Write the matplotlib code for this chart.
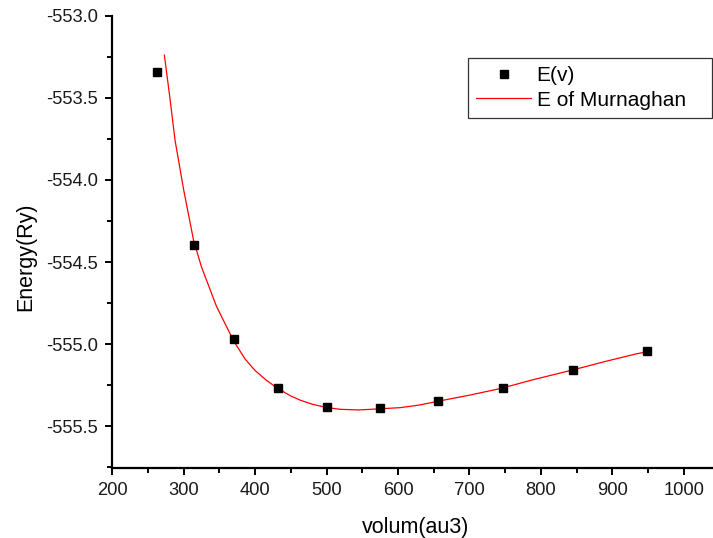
import matplotlib
matplotlib.use('Agg')
import matplotlib.pyplot as plt
from matplotlib.ticker import MultipleLocator, FormatStrFormatter

plt.rcParams['font.family'] = ['Liberation Sans', 'DejaVu Sans']
plt.rcParams['axes.unicode_minus'] = False

# calculated total energy at each cell volume
volume = [263, 314, 370, 432, 500, 575, 656, 747, 845, 949]
energy = [-553.344, -554.394, -554.970, -555.267, -555.383, -555.386,
          -555.347, -555.265, -555.156, -555.044]

# Murnaghan equation of state fit
fit_volume = [273, 281, 288, 300, 314, 325, 346, 370, 386, 400, 416, 432, 450,
              463, 480, 499, 519, 545, 575, 603, 630, 656, 700, 743, 790, 845,
              890, 934, 949]
fit_energy = [-553.24, -553.51, -553.76, -554.06, -554.37, -554.53, -554.77,
              -554.98, -555.09, -555.16, -555.22, -555.27, -555.315, -555.34,
              -555.365, -555.384, -555.396, -555.40, -555.393, -555.386,
              -555.37, -555.347, -555.31, -555.27, -555.215, -555.156,
              -555.105, -555.058, -555.046]

fig = plt.figure(figsize=(7.13, 5.38), dpi=100)
ax = fig.add_axes([0.1574, 0.1296, 0.8426, 0.8412])

ax.plot(volume, energy, 's', color='black', markersize=6.3, label='E(v)', zorder=3)
ax.plot(fit_volume, fit_energy, '-', color='#ff0000', linewidth=0.9,
        label='E of Murnaghan', zorder=2)

ax.set_xlim(200, 1041)
ax.set_ylim(-555.755, -553.0)

ax.xaxis.set_major_locator(MultipleLocator(100))
ax.xaxis.set_minor_locator(MultipleLocator(50))
ax.yaxis.set_major_locator(MultipleLocator(0.5))
ax.yaxis.set_minor_locator(MultipleLocator(0.25))
ax.yaxis.set_major_formatter(FormatStrFormatter('%.1f'))

for side in ['top', 'right']:
    ax.spines[side].set_visible(False)
for side in ['left', 'bottom']:
    ax.spines[side].set_linewidth(1.6)

ax.tick_params(which='major', direction='out', length=5, width=1.4,
               labelsize=13.2, colors='black', pad=5)
ax.tick_params(which='minor', direction='out', length=3.5, width=1.4)
for lbl in ax.get_xticklabels() + ax.get_yticklabels():
    lbl.set_color('#1a1a1a')

ax.set_xlabel('volum(au3)', fontsize=15.5)
ax.set_ylabel('Energy(Ry)', fontsize=15.5)
ax.xaxis.set_label_coords(0.505, -0.108)
ax.yaxis.set_label_coords(-0.127, 0.468)

leg = ax.legend(loc='upper left', bbox_to_anchor=(0.592, 0.765, 0.406, 0.1414),
                mode='expand', borderaxespad=0, fontsize=15,
                frameon=True, fancybox=False, edgecolor='black',
                handlelength=2.65, handletextpad=0.25, borderpad=0.4,
                labelspacing=0.25)
leg.get_frame().set_linewidth(0.9)

fig.savefig('out.png', dpi=100)
plt.close(fig)
